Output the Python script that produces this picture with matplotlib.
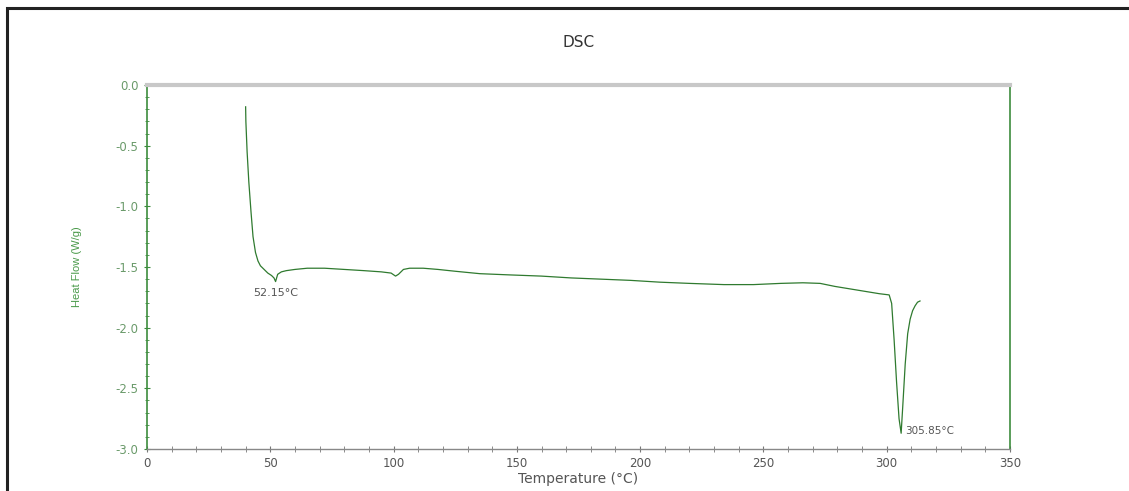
import numpy as np
import matplotlib.pyplot as plt
from matplotlib.ticker import MultipleLocator
from matplotlib.patches import Rectangle

# DSC curve
temp = [40.0, 40.1, 40.6, 41.3, 42.2, 43.0, 44.0, 45.0, 46.0, 47.5, 49.0, 50.5, 51.5,
        52.15, 53.0, 54.5, 56.5, 60.0, 65.0, 72.0, 80.0, 88.0, 95.0, 99.0, 100.8,
        102.0, 104.0, 106.5, 112.0, 118.0, 125.0, 135.0, 147.0, 160.0, 172.0, 184.0,
        196.0, 208.0, 220.0, 234.0, 246.0, 257.0, 266.0, 273.0, 279.0, 285.0, 291.0,
        297.0, 301.0, 302.0, 303.0, 304.0, 305.0, 305.85, 306.5, 307.5, 308.5, 309.5,
        310.5, 311.5, 312.5, 313.5]
heat_flow = [-0.18, -0.30, -0.55, -0.80, -1.05, -1.25, -1.38, -1.45, -1.49, -1.52,
             -1.55, -1.57, -1.59, -1.62, -1.56, -1.54, -1.53, -1.52, -1.51, -1.51,
             -1.52, -1.53, -1.54, -1.55, -1.575, -1.56, -1.52, -1.51, -1.51, -1.52,
             -1.535, -1.555, -1.565, -1.575, -1.59, -1.60, -1.61, -1.625, -1.635,
             -1.645, -1.645, -1.635, -1.63, -1.635, -1.66, -1.68, -1.70, -1.72, -1.73,
             -1.80, -2.10, -2.45, -2.75, -2.87, -2.65, -2.30, -2.05, -1.93, -1.86,
             -1.82, -1.79, -1.78]

peak_labels = ["52.15°C", "305.85°C"]
peak_x = [52.15, 305.85]
peak_y = [-1.62, -2.87]

GREEN = "#3d8c3d"
GREY_TXT = "#555555"

plt.rcParams['font.family'] = ['DejaVu Sans']

fig = plt.figure(figsize=(11.29, 4.91), dpi=100)
ax = fig.add_axes([0.1302, 0.0855, 0.7644, 0.7414])

ax.plot(temp, heat_flow, color="#2f7a2f", lw=0.9)

ax.set_xlim(0, 350)
ax.set_ylim(-3.0, 0.0)
ax.xaxis.set_major_locator(MultipleLocator(50))
ax.xaxis.set_minor_locator(MultipleLocator(10))
ax.yaxis.set_major_locator(MultipleLocator(0.5))
ax.yaxis.set_minor_locator(MultipleLocator(0.1))
ax.yaxis.set_major_formatter(plt.FuncFormatter(lambda v, p: f"{v:.1f}"))

ax.tick_params(axis='both', which='both', direction='inout', labelsize=8.5)
ax.tick_params(axis='x', which='major', length=5, color='#777777', labelcolor=GREY_TXT)
ax.tick_params(axis='x', which='minor', length=4, color='#777777')
ax.tick_params(axis='y', which='major', length=5, color=GREEN, labelcolor='#6a9a6a')
ax.tick_params(axis='y', which='minor', length=3, color=GREEN)

ax.spines['left'].set_color(GREEN)
ax.spines['right'].set_color(GREEN)
ax.spines['left'].set_linewidth(1.2)
ax.spines['right'].set_linewidth(1.2)
ax.spines['top'].set_color('#c8c8c8')
ax.spines['top'].set_linewidth(3)
ax.spines['bottom'].set_color('#888888')
ax.spines['bottom'].set_linewidth(1)

ax.set_xlabel("Temperature (°C)", fontsize=10, color=GREY_TXT, labelpad=1)
ax.set_ylabel("Heat Flow (W/g)", fontsize=8, color='#4a9a4a', labelpad=24,
              family='Liberation Sans')
ax.set_title("DSC", fontsize=11, color='#333333', pad=27)

# peak annotations
ax.text(peak_x[0], peak_y[0] - 0.05, peak_labels[0], fontsize=8, color=GREY_TXT,
        ha='center', va='top')
ax.text(peak_x[1] + 1.5, peak_y[1] + 0.02, peak_labels[1], fontsize=7.5, color=GREY_TXT,
        ha='left', va='center')

# outer frame of the screenshot
fig.patches.append(Rectangle((7 / 1129, -0.1), 1.2, 1 - 8 / 491 + 0.1,
                             transform=fig.transFigure, fill=False,
                             edgecolor='#222222', lw=2.2))

fig.savefig("out.png", dpi=100)
